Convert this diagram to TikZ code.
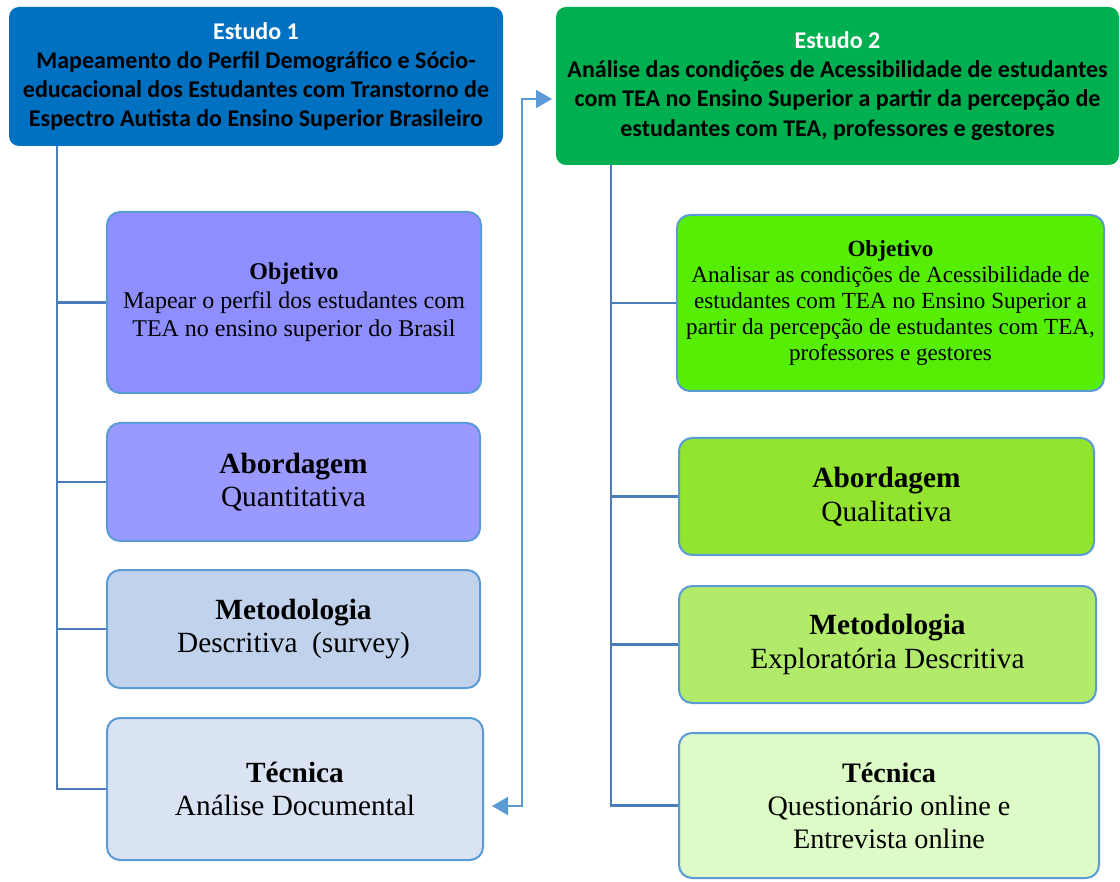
\documentclass[tikz,border=0pt]{standalone}
\usepackage{fontspec}
\setmainfont{Liberation Serif}
\newfontfamily\hdfont{Carlito}
\usetikzlibrary{arrows.meta}
\definecolor{hblue}{HTML}{0070C0}
\definecolor{hgreen}{HTML}{00B050}
\definecolor{bord}{HTML}{5B9BD5}
\definecolor{spinec}{HTML}{4A7EBB}
\definecolor{lobjc}{HTML}{8E8EFF}
\definecolor{laboc}{HTML}{9999FF}
\definecolor{lmetc}{HTML}{C0D2EC}
\definecolor{ltecc}{HTML}{DAE3F3}
\definecolor{robjc}{HTML}{55EE04}
\definecolor{raboc}{HTML}{92E42E}
\definecolor{rmetc}{HTML}{B2EB6A}
\definecolor{rtecc}{HTML}{DDFBC6}
\tikzset{
  header/.style={rounded corners=10pt, inner sep=0pt, align=center,
    font=\hdfont\bfseries\fontsize{24}{29.2}\selectfont},
  cbox/.style={draw=bord, line width=2pt, rounded corners=13pt, inner sep=0pt, align=center},
  smalltxt/.style={font=\fontsize{24}{28.5}\selectfont},
  robjtxt/.style={font=\fontsize{23.1}{26}\selectfont},
  bigtxt/.style={font=\fontsize{29.3}{33.5}\selectfont},
  rtectxt/.style={font=\fontsize{28.2}{33}\selectfont},
  spine/.style={draw=spinec, line width=2.5pt},
  link/.style={draw=bord, line width=2pt, {Triangle[length=16pt,width=18pt]}-{Triangle[length=16pt,width=18pt]}}
}
\begin{document}
\begin{tikzpicture}[x=1pt,y=-1pt]
\useasboundingbox (0,0) rectangle (1120,882);
% headers
\node[header, fill=hblue, minimum width=494pt, minimum height=139pt] (h1) at (256,76.5)
  {{\color{white}Estudo 1}\\Mapeamento do Perfil Demográfico e Sócio-\\educacional dos Estudantes com Transtorno de\\Espectro Autista do Ensino Superior Brasileiro};
\node[header, fill=hgreen, minimum width=563pt, minimum height=158pt] (h2) at (837.5,86)
  {{\color{white}Estudo 2}\\Análise das condições de Acessibilidade de estudantes\\com TEA no Ensino Superior a partir da percepção de\\estudantes com TEA, professores e gestores};
% left boxes
\node[cbox, smalltxt, fill=lobjc, minimum width=374pt, minimum height=181pt] (lobj) at (294,302.5)
  {\textbf{Objetivo}\\Mapear o perfil dos estudantes com\\TEA no ensino superior do Brasil};
\node[cbox, bigtxt, fill=laboc, minimum width=373pt, minimum height=118pt] (labo) at (293.5,482)
  {\textbf{Abordagem}\\Quantitativa};
\node[cbox, bigtxt, fill=lmetc, minimum width=373pt, minimum height=118pt] (lmet) at (293.5,629)
  {\textbf{Metodologia}\\Descritiva\ \ (survey)};
\node[cbox, bigtxt, fill=ltecc, minimum width=376pt, minimum height=142pt] (ltec) at (295,789)
  {\textbf{Técnica}\\Análise Documental};
% right boxes
\node[cbox, robjtxt, fill=robjc, minimum width=427pt, minimum height=176pt] (robj) at (890.5,303)
  {\textbf{Objetivo}\\Analisar as condições de Acessibilidade de\\estudantes com TEA no Ensino Superior a\\partir da percepção de estudantes com TEA,\\professores e gestores};
\node[cbox, bigtxt, fill=raboc, minimum width=415pt, minimum height=117pt] (rabo) at (886.5,496.5)
  {\textbf{Abordagem}\\Qualitativa};
\node[cbox, bigtxt, fill=rmetc, minimum width=417pt, minimum height=117pt] (rmet) at (887.5,644.5)
  {\textbf{Metodologia}\\Exploratória Descritiva};
\node[cbox, rtectxt, fill=rtecc, minimum width=420pt, minimum height=145pt] (rtec) at (889,805.5)
  {\textbf{Técnica}\\Questionário online e\\Entrevista online};
% spines
\coordinate (ls) at (57,146);
\coordinate (rs) at (611,165);
\draw[spine] (ls) |- (lobj.west);
\draw[spine] (ls) |- (labo.west);
\draw[spine] (ls) |- (lmet.west);
\draw[spine] (ls) |- (ltec.west);
\draw[spine] (rs) |- (robj.west);
\draw[spine] (rs) |- (rabo.west);
\draw[spine] (rs) |- (rmet.west);
\draw[spine] (rs) |- (rtec.west);
% link between studies
\coordinate (la) at (492,806);
\coordinate (lb) at (552,99);
\draw[link] (la) -- (522,806) -- (522,99) -- (lb);
\end{tikzpicture}
\end{document}
